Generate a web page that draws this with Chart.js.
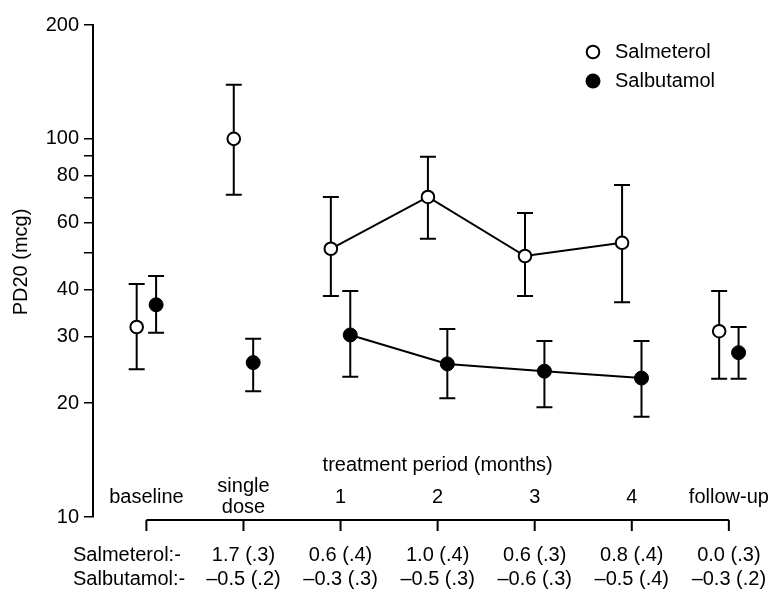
<!DOCTYPE html>
<html>
<head>
<meta charset="utf-8">
<script src="https://cdn.jsdelivr.net/npm/chart.js@4/dist/chart.umd.min.js"></script>
<style>
  html, body { margin: 0; padding: 0; background: #fff; }
  canvas { display: block; }
</style>
</head>
<body>
<canvas id="pd20-chart" width="776" height="594"></canvas>
<script>
// categories along the x axis
const categories = ['baseline', ['single', 'dose'], '1', '2', '3', '4', 'follow-up'];

// PD20 geometric means and error bar ends (mcg)
const salmeterolMean = [31.8, 100, 51.2, 70.2, 49.0, 53.1, 31.0];
const salmeterolHigh = [41.3, 139, 70.2, 89.6, 63.7, 75.5, 39.6];
const salmeterolLow  = [24.6, 71.1, 38.4, 54.4, 38.4, 37.0, 23.2];

const salbutamolMean = [36.4, 25.6, 30.3, 25.4, 24.3, 23.3, 27.2];
const salbutamolHigh = [43.4, 29.6, 39.6, 31.4, 29.2, 29.2, 31.8];
const salbutamolLow  = [30.7, 21.5, 23.5, 20.6, 19.5, 18.4, 23.2];

// change in doubling dose (SE), single dose .. follow-up
const salmeterolChange   = [1.7, 0.6, 1.0, 0.6, 0.8, 0.0];
const salmeterolChangeSE = [0.3, 0.4, 0.4, 0.3, 0.4, 0.3];
const salbutamolChange   = [-0.5, -0.3, -0.5, -0.6, -0.5, -0.3];
const salbutamolChangeSE = [0.2, 0.3, 0.3, 0.3, 0.4, 0.2];

// y axis ticks
const yTicks = [10, 20, 30, 40, 50, 60, 70, 80, 90, 100, 200];
const yLabels = [10, 20, 30, 40, 60, 80, 100, 200];

const FONT = '"Liberation Sans", Arial, Helvetica, sans-serif';
const OFFSET = 0.1;   // side-by-side shift of the two drugs

function fmtChange(v, se) {
    const m = (v < 0 ? '\u2013' : '') + Math.abs(v).toFixed(1);
    return m + ' (' + se.toFixed(1).replace(/^0/, '') + ')';
}

// line only joins the 1..4 month points
const joinMonths = ctx => (ctx.p0DataIndex >= 2 && ctx.p1DataIndex <= 5) ? '#000' : 'rgba(0,0,0,0)';

const errorBars = {
    id: 'errorBars',
    beforeDatasetsDraw(chart) {
        const { ctx, scales: { x, y } } = chart;
        const sets = [
            [salmeterolHigh, salmeterolLow, -OFFSET],
            [salbutamolHigh, salbutamolLow, OFFSET]
        ];
        ctx.save();
        ctx.strokeStyle = '#000';
        ctx.lineWidth = 2;
        sets.forEach(([hi, lo, off]) => {
            hi.forEach((h, i) => {
                const px = x.getPixelForValue(i + off);
                const top = y.getPixelForValue(h);
                const bot = y.getPixelForValue(lo[i]);
                ctx.beginPath();
                ctx.moveTo(px, top); ctx.lineTo(px, bot);
                ctx.moveTo(px - 8, top); ctx.lineTo(px + 8, top);
                ctx.moveTo(px - 8, bot); ctx.lineTo(px + 8, bot);
                ctx.stroke();
            });
        });
        ctx.restore();
    }
};

const annotations = {
    id: 'annotations',
    afterDraw(chart) {
        const { ctx, scales: { x } } = chart;
        ctx.save();
        ctx.fillStyle = '#000';
        ctx.strokeStyle = '#000';
        ctx.font = '20px ' + FONT;
        ctx.textBaseline = 'middle';

        // y axis title
        ctx.save();
        ctx.translate(21, 262);
        ctx.rotate(-Math.PI / 2);
        ctx.textAlign = 'center';
        ctx.fillText('PD20 (mcg)', 0, 0);
        ctx.restore();

        // legend
        ctx.lineWidth = 2;
        ctx.beginPath();
        ctx.arc(593, 52, 6.3, 0, Math.PI * 2);
        ctx.fillStyle = '#fff';
        ctx.fill();
        ctx.stroke();
        ctx.fillStyle = '#000';
        ctx.beginPath();
        ctx.arc(593, 81, 7.5, 0, Math.PI * 2);
        ctx.fill();
        ctx.textAlign = 'left';
        ctx.fillText('Salmeterol', 615, 52);
        ctx.fillText('Salbutamol', 615, 81);

        // category labels
        ctx.textAlign = 'center';
        ctx.fillText('treatment period (months)', x.getPixelForValue(3), 465);
        categories.forEach((c, i) => {
            const px = x.getPixelForValue(i);
            if (Array.isArray(c)) {
                ctx.fillText(c[0], px, 486);
                ctx.fillText(c[1], px, 507);
            } else {
                ctx.fillText(c, px, 497);
            }
        });

        // bracket under the categories
        const x0 = x.getPixelForValue(0);
        const x1 = x.getPixelForValue(categories.length - 1);
        ctx.lineWidth = 2;
        ctx.beginPath();
        ctx.moveTo(x0, 520); ctx.lineTo(x1, 520);
        categories.forEach((c, i) => {
            const px = x.getPixelForValue(i);
            ctx.moveTo(px, 520); ctx.lineTo(px, 531);
        });
        ctx.stroke();

        // change table
        ctx.textAlign = 'left';
        ctx.fillText('Salmeterol:-', 73, 555);
        ctx.fillText('Salbutamol:-', 73, 579);
        ctx.textAlign = 'center';
        salmeterolChange.forEach((v, i) => {
            const px = x.getPixelForValue(i + 1);
            ctx.fillText(fmtChange(v, salmeterolChangeSE[i]), px, 555);
            ctx.fillText(fmtChange(salbutamolChange[i], salbutamolChangeSE[i]), px, 579);
        });
        ctx.restore();
    }
};

new Chart(document.getElementById('pd20-chart'), {
    type: 'scatter',
    data: {
        datasets: [
            {
                label: 'Salmeterol',
                data: salmeterolMean.map((v, i) => ({ x: i - OFFSET, y: v })),
                showLine: true,
                borderColor: '#000',
                borderWidth: 2,
                segment: { borderColor: joinMonths },
                pointRadius: 6.3,
                pointBorderWidth: 2,
                pointBackgroundColor: '#fff',
                pointBorderColor: '#000'
            },
            {
                label: 'Salbutamol',
                data: salbutamolMean.map((v, i) => ({ x: i + OFFSET, y: v })),
                showLine: true,
                borderColor: '#000',
                borderWidth: 2,
                segment: { borderColor: joinMonths },
                pointRadius: 7,
                pointBorderWidth: 1,
                pointBackgroundColor: '#000',
                pointBorderColor: '#000'
            }
        ]
    },
    options: {
        responsive: false,
        animation: false,
        devicePixelRatio: 1,
        layout: { padding: { top: 25, right: 4, bottom: 77, left: 0 } },
        plugins: {
            legend: { display: false },
            tooltip: { enabled: false }
        },
        scales: {
            x: {
                type: 'linear',
                min: -0.55,
                max: 6.4,
                display: false
            },
            y: {
                type: 'logarithmic',
                min: 10,
                max: 200,
                afterBuildTicks(scale) {
                    scale.ticks = yTicks.map(v => ({ value: v }));
                },
                afterFit(scale) {
                    scale.width = 93;
                },
                ticks: {
                    autoSkip: false,
                    color: '#000',
                    padding: 5,
                    font: { family: FONT, size: 20 },
                    callback: v => yLabels.includes(v) ? String(v) : ''
                },
                grid: {
                    drawOnChartArea: false,
                    drawTicks: true,
                    tickLength: 9,
                    color: '#000',
                    lineWidth: 1.5
                },
                border: { color: '#000', width: 2 }
            }
        }
    },
    plugins: [errorBars, annotations]
});
</script>
</body>
</html>
